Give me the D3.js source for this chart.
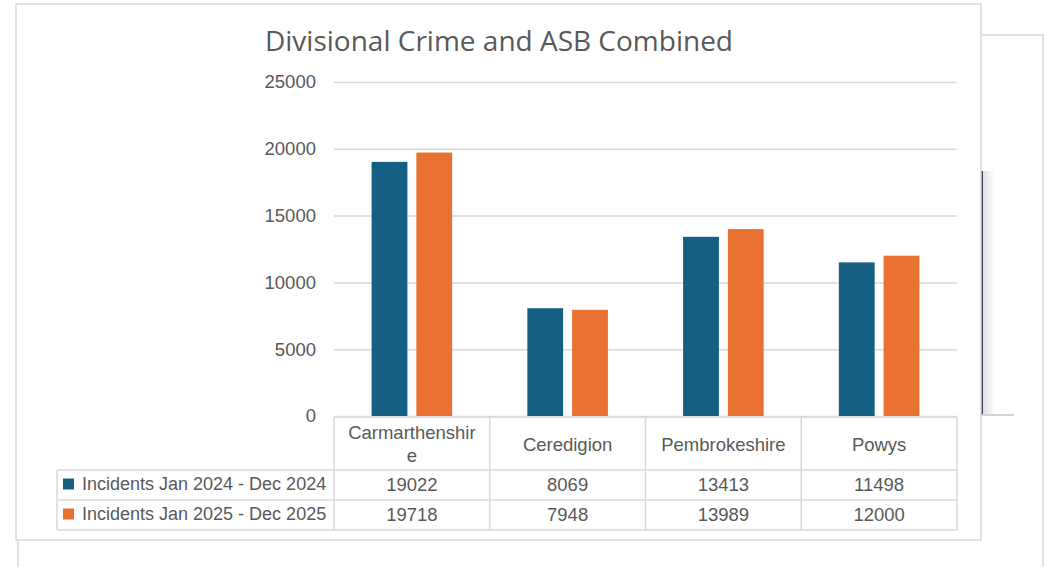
<!DOCTYPE html>
<html>
<head>
<meta charset="utf-8">
<script src="https://cdn.jsdelivr.net/npm/d3@7"></script>
<style>
  body { margin: 0; background: #fff; }
  svg { display: block; }
  text { fill: #595959; font-family: 'Liberation Sans', Arial, sans-serif; }
</style>
</head>
<body>
<svg id="svg" width="1044" height="567"></svg>
<script>
const categories = ['Carmarthenshire', 'Ceredigion', 'Pembrokeshire', 'Powys'];
const seriesNames = ['Incidents Jan 2024 - Dec 2024', 'Incidents Jan 2025 - Dec 2025'];
const values2024 = [19022, 8069, 13413, 11498];
const values2025 = [19718, 7948, 13989, 12000];
const yTicks = [0, 5000, 10000, 15000, 20000, 25000];
const colors = ['#156082', '#e97132'];

const svg = d3.select('#svg');
const plot = {left: 334, right: 957, top: 82, bottom: 416};
const gridColor = '#d9d9d9';

// back frame (partly hidden behind the chart)
svg.append('rect')
    .attr('x', 18).attr('y', 35)
    .attr('width', 1025).attr('height', 600)
    .attr('fill', '#fff')
    .attr('stroke', gridColor).attr('stroke-width', 1.5);

// dark edge + shadow to the right of the chart box
const grad = svg.append('defs').append('linearGradient')
    .attr('id', 'shadow').attr('x1', 0).attr('x2', 1).attr('y1', 0).attr('y2', 0);
grad.append('stop').attr('offset', 0).attr('stop-color', '#000').attr('stop-opacity', 0.12);
grad.append('stop').attr('offset', 1).attr('stop-color', '#000').attr('stop-opacity', 0);
svg.append('rect')
    .attr('x', 983).attr('y', 171).attr('width', 12).attr('height', 244)
    .attr('fill', 'url(#shadow)');
svg.append('line')
    .attr('x1', 982).attr('x2', 982).attr('y1', 171).attr('y2', 415)
    .attr('stroke', '#3b4658').attr('stroke-width', 2);
svg.append('line')
    .attr('x1', 982).attr('x2', 1014).attr('y1', 415).attr('y2', 415)
    .attr('stroke', '#d4d4d4').attr('stroke-width', 2);

// chart box
svg.append('rect')
    .attr('x', 16).attr('y', 4)
    .attr('width', 965).attr('height', 536)
    .attr('fill', '#fff')
    .attr('stroke', gridColor).attr('stroke-width', 1.5);

svg.append('text')
    .attr('x', 499).attr('y', 51)
    .attr('text-anchor', 'middle')
    .style('font-family', "'Open Sans', sans-serif")
    .style('font-size', '28px')
    .text('Divisional Crime and ASB Combined');

const yScale = d3.scaleLinear()
    .domain([0, 25000])
    .range([plot.bottom, plot.top]);
const xScale = d3.scaleBand()
    .domain(categories)
    .range([plot.left, plot.right])
    .padding(0);
const xSub = d3.scaleBand()
    .domain([0, 1])
    .range([0, xScale.bandwidth()])
    .paddingInner(0.2)
    .paddingOuter(0.84);

// y axis with gridlines
const yAxis = svg.append('g')
    .attr('transform', 'translate(' + plot.left + ',0)')
    .call(d3.axisLeft(yScale)
        .tickValues(yTicks)
        .tickFormat(d3.format('d'))
        .tickSize(-(plot.right - plot.left))
        .tickPadding(18));
yAxis.select('.domain').remove();
yAxis.selectAll('line').attr('stroke', gridColor).attr('stroke-width', 1.5);
yAxis.selectAll('text')
    .attr('fill', '#595959')
    .style('font-family', "'Liberation Sans', Arial, sans-serif")
    .style('font-size', '18.5px');

// bars
const seriesValues = [values2024, values2025];
const barGrp = svg.append('g');
seriesValues.forEach(function(vals, s) {
    barGrp.selectAll('rect.s' + s)
        .data(vals)
        .enter()
        .append('rect')
        .attr('class', 's' + s)
        .attr('x', function(d, i) { return xScale(categories[i]) + xSub(s); })
        .attr('width', xSub.bandwidth())
        .attr('y', function(d) { return yScale(d); })
        .attr('height', function(d) { return yScale(0) - yScale(d); })
        .attr('fill', colors[s]);
});

// data table
const tbl = svg.append('g');
const rowTop = [417, 470, 500, 530];
const legendLeft = 57;
const lineStyle = function(sel) {
    sel.attr('stroke', gridColor).attr('stroke-width', 1.5).attr('fill', 'none');
};

// horizontal lines
tbl.append('line').attr('x1', plot.left).attr('x2', plot.right)
    .attr('y1', rowTop[0]).attr('y2', rowTop[0]).call(lineStyle);
tbl.selectAll('line.h').data(rowTop.slice(1)).enter().append('line')
    .attr('x1', legendLeft).attr('x2', plot.right)
    .attr('y1', function(d) { return d; }).attr('y2', function(d) { return d; })
    .call(lineStyle);
// vertical lines
const colEdges = categories.map(function(c) { return xScale(c); }).concat([plot.right]);
tbl.selectAll('line.v').data(colEdges).enter().append('line')
    .attr('x1', function(d) { return d; }).attr('x2', function(d) { return d; })
    .attr('y1', rowTop[0]).attr('y2', rowTop[3])
    .call(lineStyle);
tbl.append('line').attr('x1', legendLeft).attr('x2', legendLeft)
    .attr('y1', rowTop[1]).attr('y2', rowTop[3]).call(lineStyle);

// header labels, wrapped by character like the original
const maxHeaderWidth = 130;
categories.forEach(function(c) {
    const cx = xScale(c) + xScale.bandwidth() / 2;
    const t = tbl.append('text')
        .attr('x', cx)
        .attr('text-anchor', 'middle')
        .attr('dominant-baseline', 'central')
        .style('font-size', '18.5px');
    let lines = [c];
    t.text(c);
    if (t.node().getComputedTextLength() > maxHeaderWidth) {
        let cut = c.length - 1;
        t.text(c.slice(0, cut));
        while (t.node().getComputedTextLength() > maxHeaderWidth && cut > 1) {
            cut--;
            t.text(c.slice(0, cut));
        }
        lines = [c.slice(0, cut), c.slice(cut)];
    }
    t.text(null);
    const mid = (rowTop[0] + rowTop[1]) / 2;
    lines.forEach(function(l, k) {
        t.append('tspan')
            .attr('x', cx)
            .attr('y', mid + (k - (lines.length - 1) / 2) * 23)
            .text(l);
    });
});

// value rows
seriesValues.forEach(function(vals, s) {
    const cy = (rowTop[s + 1] + rowTop[s + 2]) / 2 - 1;
    tbl.selectAll('text.v' + s)
        .data(vals)
        .enter()
        .append('text')
        .attr('x', function(d, i) { return xScale(categories[i]) + xScale.bandwidth() / 2; })
        .attr('y', cy)
        .attr('text-anchor', 'middle')
        .attr('dominant-baseline', 'central')
        .style('font-size', '18.5px')
        .text(function(d) { return d; });
    tbl.append('rect')
        .attr('x', 63).attr('y', cy - 5.5)
        .attr('width', 11).attr('height', 11)
        .attr('fill', colors[s]);
    tbl.append('text')
        .attr('x', 82).attr('y', cy)
        .attr('dominant-baseline', 'central')
        .style('font-size', '18px')
        .text(seriesNames[s]);
});
</script>
</body>
</html>
